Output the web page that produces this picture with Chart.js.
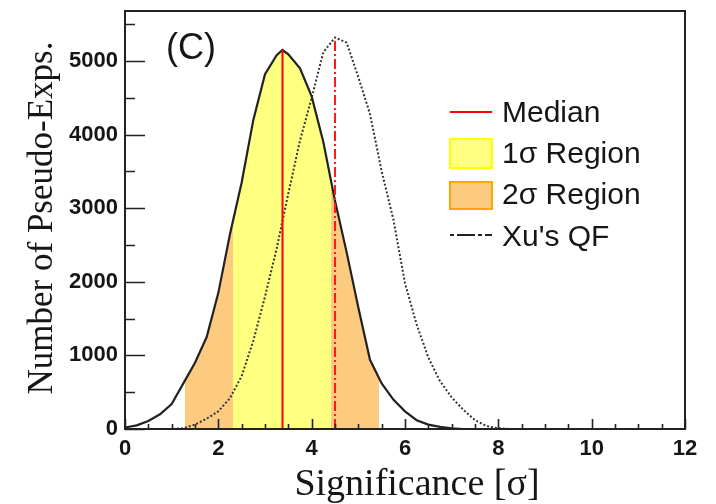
<!DOCTYPE html>
<html>
<head>
<meta charset="utf-8">
<script src="https://cdn.jsdelivr.net/npm/chart.js@4.4.1/dist/chart.umd.min.js"></script>
<style>
  html, body { margin: 0; padding: 0; background: #fff; }
  #wrap { width: 716px; height: 504px; }
</style>
</head>
<body>
<div id="wrap"><canvas id="chart"></canvas></div>
<script>
// significance bins [sigma]
const sigBins = [0, 0.25, 0.5, 0.75, 1, 1.25, 1.5, 1.75, 2, 2.25, 2.5, 2.75, 3, 3.25, 3.375, 3.5,
  3.75, 4, 4.25, 4.5, 4.75, 5, 5.25, 5.5, 5.75, 6, 6.25, 6.5, 6.75, 7, 7.25, 7.5, 7.75, 8,
  8.25, 8.5, 8.75, 9, 9.25, 9.5, 9.75, 10];
// pseudo-experiments per bin, nominal quenching factor
const expCounts = [20, 50, 110, 200, 340, 620, 900, 1250, 1850, 2650, 3350, 4200, 4820, 5080, 5150, 5090,
  4900, 4520, 3900, 3100, 2400, 1650, 940, 620, 400, 240, 120, 60, 30, 10, 0, 0, 0, 0,
  0, 0, 0, 0, 0, 0, 0, 0];
// pseudo-experiments per bin, Xu's QF
const xuCounts = [0, 0, 0, 0, 0, 10, 60, 140, 240, 420, 720, 1200, 1800, 2450, 2830, 3200,
  3920, 4500, 5120, 5320, 5250, 4780, 4280, 3500, 2850, 1980, 1420, 970, 650, 430, 260, 120, 40, 10,
  0, 0, 0, 0, 0, 0, 0, 0];

const medianSig = 3.375, medianTop = 5150;
const xuMedianSig = 4.5, xuMedianTop = 5320;
const band1 = [2.31, 4.42];
const band2 = [1.29, 5.45];

const xTicks = [0, 2, 4, 6, 8, 10, 12];
const yTicks = [0, 1000, 2000, 3000, 4000, 5000];
const legendLabels = ['Median', '1σ Region', '2σ Region', "Xu's QF"];

const YELLOW = '#ffff80';
const ORANGE = '#fdcb7f';
const INK = '#161616';
const SANS = "'Liberation Sans', Arial, sans-serif";
const SERIF = "'Liberation Serif', 'Times New Roman', serif";

const pts = ys => sigBins.map((x, i) => ({ x, y: ys[i] }));

// horizontal gradient with hard stops: orange 2σ, yellow 1σ, nothing outside
function bandFill(context) {
  const chart = context.chart;
  const area = chart.chartArea;
  if (!area) return null;
  const x = chart.scales.x;
  const span = x.max - x.min;
  const f = v => (v - x.min) / span;
  const g = chart.ctx.createLinearGradient(area.left, 0, area.right, 0);
  const clear = 'rgba(255,255,255,0)';
  g.addColorStop(0, clear);
  g.addColorStop(f(band2[0]), clear);
  g.addColorStop(f(band2[0]), ORANGE);
  g.addColorStop(f(band1[0]), ORANGE);
  g.addColorStop(f(band1[0]), YELLOW);
  g.addColorStop(f(band1[1]), YELLOW);
  g.addColorStop(f(band1[1]), ORANGE);
  g.addColorStop(f(band2[1]), ORANGE);
  g.addColorStop(f(band2[1]), clear);
  g.addColorStop(1, clear);
  return g;
}

// frame, inward ticks, axis titles, panel tag and legend
const decorations = {
  id: 'decorations',
  afterDraw(chart) {
    const { ctx, chartArea: a, scales: { x, y } } = chart;
    ctx.save();
    ctx.strokeStyle = '#222';
    ctx.lineWidth = 2;
    ctx.strokeRect(a.left, a.top, a.right - a.left, a.bottom - a.top);

    ctx.lineWidth = 1.6;
    ctx.beginPath();
    for (let v = 0; v <= y.max; v += 500) {
      const py = Math.round(y.getPixelForValue(v)) + 0.5;
      const len = v % 1000 === 0 ? 20 : 10;
      ctx.moveTo(a.left, py);
      ctx.lineTo(a.left + len, py);
    }
    for (let v = 0; v <= x.max; v += 0.5) {
      const px = Math.round(x.getPixelForValue(v)) + 0.5;
      const len = v % 2 === 0 ? 10 : 5;
      ctx.moveTo(px, a.bottom);
      ctx.lineTo(px, a.bottom - len);
    }
    ctx.stroke();

    ctx.fillStyle = INK;
    ctx.textAlign = 'center';
    ctx.textBaseline = 'alphabetic';
    ctx.font = '38px ' + SERIF;
    ctx.fillText('Significance [σ]', 417, 495);
    ctx.font = '35px ' + SERIF;
    ctx.save();
    ctx.translate(52, 218);
    ctx.rotate(-Math.PI / 2);
    ctx.fillText('Number of Pseudo-Exps.', 0, 0);
    ctx.restore();

    ctx.textAlign = 'left';
    ctx.font = '36px ' + SANS;
    ctx.fillText('(C)', 166, 59);

    // legend
    const lx = 450, lw = 42, tx = 502;
    const base = [122, 163, 204, 246];
    ctx.strokeStyle = '#ff0000';
    ctx.lineWidth = 2;
    ctx.beginPath();
    ctx.moveTo(lx, 112);
    ctx.lineTo(lx + lw, 112);
    ctx.stroke();

    ctx.fillStyle = YELLOW;
    ctx.strokeStyle = '#ffff00';
    ctx.fillRect(lx, 139, lw, 29);
    ctx.strokeRect(lx, 139, lw, 29);
    ctx.fillStyle = ORANGE;
    ctx.strokeStyle = '#ffa500';
    ctx.fillRect(lx, 182, lw, 27);
    ctx.strokeRect(lx, 182, lw, 27);

    ctx.strokeStyle = '#222';
    ctx.setLineDash([4, 3, 18, 3]);
    ctx.beginPath();
    ctx.moveTo(lx, 235);
    ctx.lineTo(lx + lw, 235);
    ctx.stroke();
    ctx.setLineDash([]);

    ctx.fillStyle = INK;
    ctx.font = '30px ' + SANS;
    legendLabels.forEach((t, i) => ctx.fillText(t, tx, base[i]));
    ctx.restore();
  }
};

const tickFont = { family: SANS, size: 22, weight: 'bold' };

new Chart(document.getElementById('chart'), {
  type: 'scatter',
  data: {
    datasets: [
      {
        label: 'Median',
        data: [{ x: medianSig, y: 0 }, { x: medianSig, y: medianTop }],
        showLine: true, borderColor: '#ff0000', borderWidth: 2, pointRadius: 0
      },
      {
        label: "Xu's median",
        data: [{ x: xuMedianSig, y: 0 }, { x: xuMedianSig, y: xuMedianTop }],
        showLine: true, borderColor: '#ff1a1a', borderWidth: 2, borderDash: [10, 3, 2, 3], pointRadius: 0
      },
      {
        label: "Xu's QF",
        data: pts(xuCounts),
        showLine: true, borderColor: '#333', borderWidth: 2, borderDash: [2, 2], pointRadius: 0
      },
      {
        label: 'Pseudo-Exps.',
        data: pts(expCounts),
        showLine: true, borderColor: '#222', borderWidth: 2.2, pointRadius: 0,
        fill: 'origin', backgroundColor: bandFill
      }
    ]
  },
  options: {
    responsive: true,
    maintainAspectRatio: false,
    animation: false,
    layout: { padding: { top: 11, right: 31, left: 0, bottom: 0 } },
    plugins: { legend: { display: false }, tooltip: { enabled: false } },
    scales: {
      x: {
        type: 'linear', min: 0, max: 12,
        afterBuildTicks: s => { s.ticks = xTicks.map(v => ({ value: v })); },
        afterFit: s => { s.height = 75; s.paddingLeft = 0; s.paddingRight = 0; },
        grid: { display: false, drawTicks: false },
        border: { display: false },
        ticks: {
          padding: 7, maxRotation: 0, autoSkip: false, color: INK, font: tickFont,
          callback: v => String(v)
        }
      },
      y: {
        type: 'linear', min: 0, max: 5680,
        afterBuildTicks: s => { s.ticks = yTicks.map(v => ({ value: v })); },
        afterFit: s => { s.width = 125; s.paddingTop = 0; s.paddingBottom = 0; },
        grid: { display: false, drawTicks: false },
        border: { display: false },
        ticks: {
          padding: 7, color: INK, font: tickFont,
          callback: v => String(v)
        }
      }
    }
  },
  plugins: [decorations]
});
</script>
</body>
</html>
